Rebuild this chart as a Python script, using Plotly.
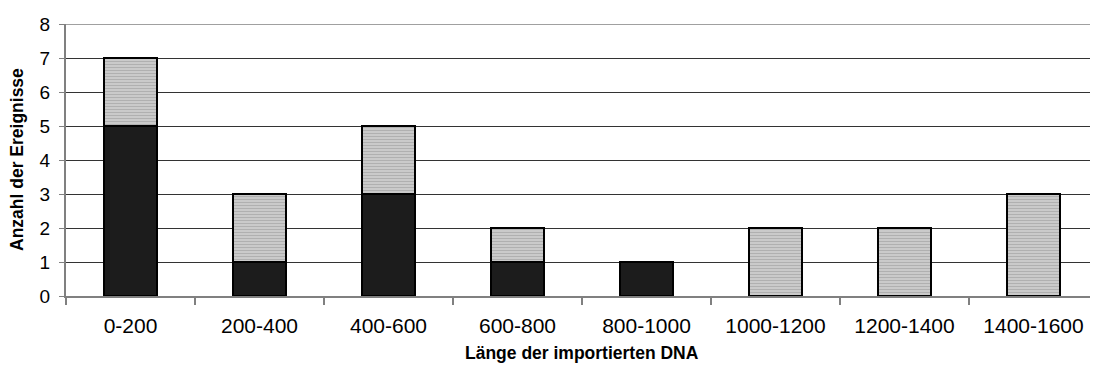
import plotly.graph_objects as go

categories = ["0-200", "200-400", "400-600", "600-800", "800-1000", "1000-1200", "1200-1400", "1400-1600"]
black_values = [5, 1, 3, 1, 1, 0, 0, 0]
gray_values = [2, 2, 2, 1, 0, 2, 2, 3]

fig = go.Figure()
fig.add_trace(go.Bar(
    x=categories, y=black_values, name="A",
    marker=dict(color="#1c1c1c", line=dict(color="black", width=2)),
))
fig.add_trace(go.Bar(
    x=categories, y=gray_values, name="B",
    marker=dict(color="#d0d0d0", line=dict(color="black", width=2),
                pattern=dict(shape="-", fgcolor="#8e8e8e", bgcolor="#d2d2d2", size=3, solidity=0.5)),
))

font = "Liberation Sans, Arial, sans-serif"
# page body adds an 8px offset; compensate in size and margins
fig.update_layout(
    barmode="stack",
    bargap=0.59,
    width=1090, height=362,
    margin=dict(l=58, r=0, t=16, b=74),
    plot_bgcolor="white", paper_bgcolor="white",
    showlegend=False,
    font=dict(family=font, size=18, color="black"),
    xaxis=dict(
        automargin=False,
        showline=True, linecolor="#808080", linewidth=2,
        ticks="outside", tickson="boundaries", ticklen=7, tickcolor="#808080", tickwidth=2,
        ticklabelstandoff=10,
        showgrid=False,
        tickfont=dict(size=21),
    ),
    yaxis=dict(
        automargin=False,
        range=[0, 8], dtick=1,
        showline=True, linecolor="#808080", linewidth=2,
        ticks="outside", ticklen=5, tickcolor="#808080", tickwidth=1,
        ticklabelstandoff=5,
        showgrid=True, gridcolor="#333333", gridwidth=1,
        tickfont=dict(size=19),
        zeroline=False,
    ),
)
fig.add_shape(type="line", xref="paper", yref="y", x0=0, x1=1, y0=8, y1=8,
              line=dict(color="#a0a0a0", width=2))
fig.add_annotation(text="<b>Länge der importierten DNA</b>", xref="paper", yref="paper",
                   x=0.5, y=0, yanchor="middle", xanchor="center", yshift=-57,
                   showarrow=False, font=dict(size=17.5))
fig.add_annotation(text="<b>Anzahl der Ereignisse</b>", xref="paper", yref="paper",
                   x=0, y=0.5, xanchor="center", yanchor="middle", xshift=-49,
                   textangle=-90, showarrow=False, font=dict(size=17.5))

fig.write_html("out.html")
